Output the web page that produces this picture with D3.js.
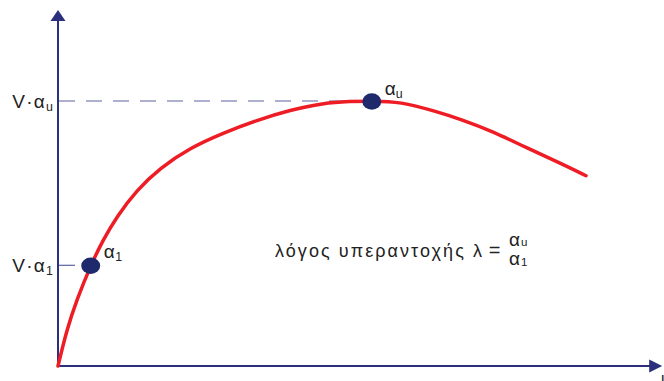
<!DOCTYPE html>
<html><head><meta charset="utf-8">
<script src="https://cdn.jsdelivr.net/npm/d3@7"></script>
<style>body{margin:0;background:#fff}svg{display:block}text{font-family:"Liberation Sans",Arial,sans-serif;fill:#222}</style>
</head><body><svg id="c" width="664" height="381"></svg>
<script>
// displacement (x) and load factor (y, relative to V·αu)
const curveX = [0, 0.145, 0.312, 0.545, 0.75, 0.978, 1.312, 1.70, 2.2, 2.75, 3.32, 3.87, 4.42, 4.87, 5.23, 5.70, 6.31, 6.70, 7.25, 7.81, 8.37, 8.8];
const curveY = [0, 0.136, 0.249, 0.38, 0.475, 0.563, 0.664, 0.747, 0.823, 0.879, 0.928, 0.966, 0.992, 0.9985, 1.0, 0.998, 0.96, 0.932, 0.885, 0.823, 0.766, 0.718];
const keyPoints = [{name:"1", x:0.545, y:0.38}, {name:"u", x:5.23, y:1.0}];

const svg = d3.select("#c");
const x = d3.scaleLinear().domain([0, 10]).range([58, 658]);
const y = d3.scaleLinear().domain([0, 1]).range([366, 101]);
const yTop = 1.343, xEnd = 10.07;
const navy = "#2b2f7c";

// axes
svg.append("line").attr("x1", x(0)).attr("x2", x(0)).attr("y1", y(0)+1).attr("y2", y(yTop)+8)
  .attr("stroke", navy).attr("stroke-width", 2);
svg.append("line").attr("x1", x(0)).attr("x2", x(xEnd)-10).attr("y1", y(0)).attr("y2", y(0))
  .attr("stroke", navy).attr("stroke-width", 2);
svg.append("path").attr("d", `M${x(0)},${y(yTop)} L${x(0)-7.5},${y(yTop)+11} L${x(0)+7.5},${y(yTop)+11}Z`).attr("fill", navy);
svg.append("path").attr("d", `M${x(xEnd)},${y(0)} L${x(xEnd)-13},${y(0)-6.5} L${x(xEnd)-13},${y(0)+6.5}Z`).attr("fill", navy);

// dashed reference lines
keyPoints.forEach(p => {
  svg.append("line").attr("x1", x(0)+1).attr("x2", x(p.x)-9).attr("y1", y(p.y)).attr("y2", y(p.y))
    .attr("stroke", "#5d61a0").attr("stroke-width", 1.2).attr("stroke-dasharray", "16,11");
});

// curve
const pts = curveX.map((d, i) => [d, curveY[i]]);
svg.append("path").datum(pts)
  .attr("d", d3.line().x(d => x(d[0])).y(d => y(d[1])).curve(d3.curveBasis))
  .attr("fill", "none").attr("stroke", "#ee1c25").attr("stroke-width", 3.5).attr("stroke-linecap", "round");

// points
svg.selectAll("ellipse.pt").data(keyPoints).enter().append("ellipse")
  .attr("cx", d => x(d.x)).attr("cy", d => y(d.y)+0.5).attr("rx", 9.5).attr("ry", 8.2).attr("fill", "#1f2a6d");

function label(tx, ty, main, sub, size, anchor, ls, subDy) {
  const t = svg.append("text").attr("x", tx).attr("y", ty).attr("font-size", size)
    .attr("text-anchor", anchor || "start").attr("letter-spacing", ls || 0);
  t.append("tspan").text(main);
  t.append("tspan").attr("font-size", size*0.65).attr("dy", subDy == null ? size*0.15 : subDy).text(sub);
  return t;
}
// y labels
keyPoints.forEach(p => label(x(0)-4, y(p.y)+7, "V·α", p.name, 19, "end", 1.2));
// point labels
label(x(0.545)+13, y(0.38)-7, "α", "1", 19, "start", 0.5);
label(x(5.23)+13, y(1.0)-6, "α", "u", 19, "start", 0);

// ratio text
svg.append("text").attr("x", 275).attr("y", 257).attr("font-size", 18)
  .attr("textLength", 207).attr("lengthAdjust", "spacing").text("λόγος υπεραντοχής λ");
svg.append("text").attr("x", 494.5).attr("y", 257).attr("font-size", 20).attr("text-anchor", "middle").text("=");
const num = svg.append("text").attr("x", 509).attr("y", 246).attr("font-size", 19);
num.append("tspan").text("α"); num.append("tspan").attr("font-size", 11.5).attr("dx", 1).text("u");
const den = svg.append("text").attr("x", 509).attr("y", 265).attr("font-size", 19);
den.append("tspan").text("α"); den.append("tspan").attr("font-size", 11.5).attr("dx", 1).attr("dy", 1).text("1");

// clipped axis label
svg.append("text").attr("x", 661).attr("y", 384).attr("font-size", 16).text("u");
</script></body></html>
